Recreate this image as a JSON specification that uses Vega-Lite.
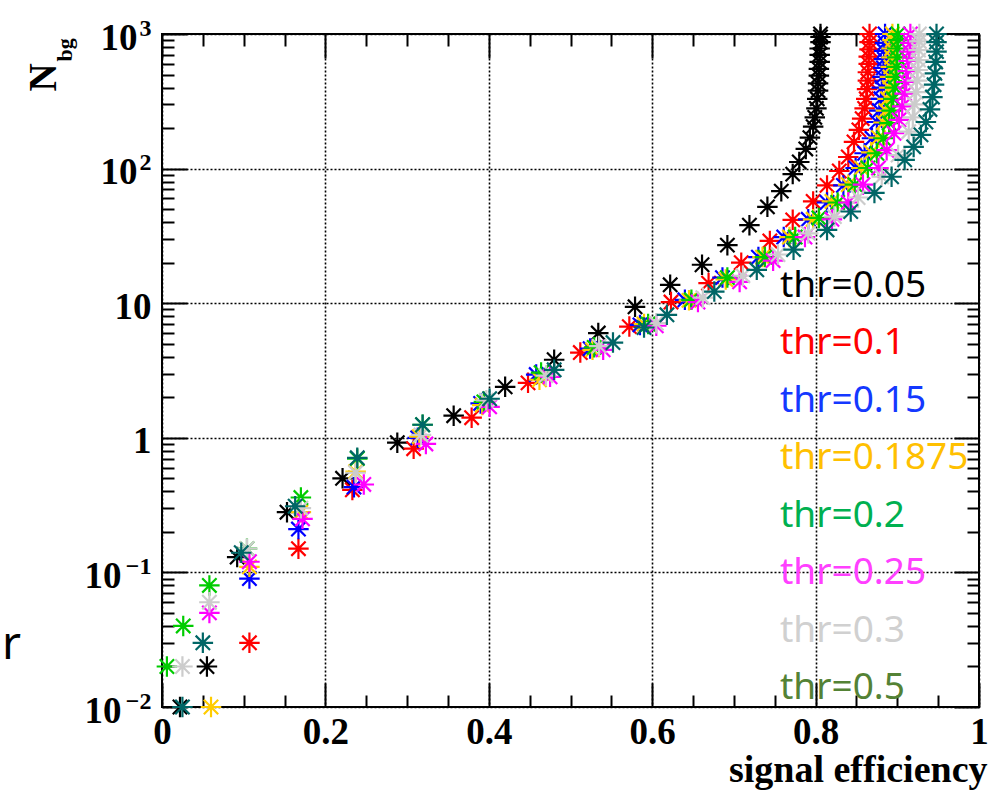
{
  "$schema": "https://vega.github.io/schema/vega-lite/v6.json",
  "width": 817,
  "height": 673,
  "autosize": "none",
  "padding": {"left": 162, "top": 34, "right": 14, "bottom": 89},
  "background": "white",
  "title": {"text": "r", "orient": "top", "anchor": "start", "frame": "group", "offset": 0, "dx": -160, "dy": 689, "baseline": "alphabetic", "font": "Noto Sans", "fontSize": 46, "fontWeight": "normal", "color": "black"},
  "config": {
    "view": {"stroke": "black", "strokeWidth": 2},
    "axis": {"labelFont": "Liberation Serif", "labelFontWeight": "bold", "labelFontSize": 37, "labelColor": "black", "titleFont": "Liberation Serif", "titleFontWeight": "bold", "titleColor": "black", "tickColor": "black", "tickWidth": 2, "labelFlush": false, "labelOverlap": false, "labelBound": false}
  },
  "data": {"values": [
    {"thr":"thr=0.05","eff":0.022,"nbg":0.01},{"thr":"thr=0.05","eff":0.055,"nbg":0.02},{"thr":"thr=0.05","eff":0.092,"nbg":0.13},{"thr":"thr=0.05","eff":0.153,"nbg":0.28},{"thr":"thr=0.05","eff":0.221,"nbg":0.5},{"thr":"thr=0.05","eff":0.288,"nbg":0.92},{"thr":"thr=0.05","eff":0.357,"nbg":1.46},{"thr":"thr=0.05","eff":0.42,"nbg":2.39},{"thr":"thr=0.05","eff":0.48,"nbg":3.8},{"thr":"thr=0.05","eff":0.534,"nbg":6.0},{"thr":"thr=0.05","eff":0.579,"nbg":9.4},{"thr":"thr=0.05","eff":0.622,"nbg":13.7},{"thr":"thr=0.05","eff":0.661,"nbg":19.3},{"thr":"thr=0.05","eff":0.692,"nbg":27},{"thr":"thr=0.05","eff":0.719,"nbg":38},{"thr":"thr=0.05","eff":0.741,"nbg":52},{"thr":"thr=0.05","eff":0.758,"nbg":68},{"thr":"thr=0.05","eff":0.772,"nbg":91},{"thr":"thr=0.05","eff":0.78,"nbg":112},{"thr":"thr=0.05","eff":0.788,"nbg":140},{"thr":"thr=0.05","eff":0.793,"nbg":170},{"thr":"thr=0.05","eff":0.797,"nbg":205},{"thr":"thr=0.05","eff":0.799,"nbg":240},{"thr":"thr=0.05","eff":0.801,"nbg":280},{"thr":"thr=0.05","eff":0.802,"nbg":330},{"thr":"thr=0.05","eff":0.803,"nbg":380},{"thr":"thr=0.05","eff":0.803,"nbg":430},{"thr":"thr=0.05","eff":0.804,"nbg":490},{"thr":"thr=0.05","eff":0.804,"nbg":550},{"thr":"thr=0.05","eff":0.805,"nbg":620},{"thr":"thr=0.05","eff":0.805,"nbg":700},{"thr":"thr=0.05","eff":0.805,"nbg":780},{"thr":"thr=0.05","eff":0.806,"nbg":870},{"thr":"thr=0.05","eff":0.806,"nbg":950},{"thr":"thr=0.05","eff":0.806,"nbg":1000},
    {"thr":"thr=0.1","eff":0.107,"nbg":0.03},{"thr":"thr=0.1","eff":0.167,"nbg":0.15},{"thr":"thr=0.1","eff":0.233,"nbg":0.41},{"thr":"thr=0.1","eff":0.308,"nbg":0.83},{"thr":"thr=0.1","eff":0.379,"nbg":1.41},{"thr":"thr=0.1","eff":0.448,"nbg":2.56},{"thr":"thr=0.1","eff":0.512,"nbg":4.3},{"thr":"thr=0.1","eff":0.572,"nbg":6.7},{"thr":"thr=0.1","eff":0.623,"nbg":10.2},{"thr":"thr=0.1","eff":0.669,"nbg":14.1},{"thr":"thr=0.1","eff":0.709,"nbg":20},{"thr":"thr=0.1","eff":0.744,"nbg":29},{"thr":"thr=0.1","eff":0.772,"nbg":41.6},{"thr":"thr=0.1","eff":0.797,"nbg":57},{"thr":"thr=0.1","eff":0.814,"nbg":75},{"thr":"thr=0.1","eff":0.829,"nbg":96},{"thr":"thr=0.1","eff":0.84,"nbg":122},{"thr":"thr=0.1","eff":0.847,"nbg":158},{"thr":"thr=0.1","eff":0.853,"nbg":194},{"thr":"thr=0.1","eff":0.857,"nbg":235},{"thr":"thr=0.1","eff":0.86,"nbg":280},{"thr":"thr=0.1","eff":0.862,"nbg":330},{"thr":"thr=0.1","eff":0.863,"nbg":390},{"thr":"thr=0.1","eff":0.864,"nbg":450},{"thr":"thr=0.1","eff":0.864,"nbg":520},{"thr":"thr=0.1","eff":0.865,"nbg":600},{"thr":"thr=0.1","eff":0.865,"nbg":680},{"thr":"thr=0.1","eff":0.866,"nbg":770},{"thr":"thr=0.1","eff":0.866,"nbg":870},{"thr":"thr=0.1","eff":0.866,"nbg":1000},
    {"thr":"thr=0.15","eff":0.107,"nbg":0.09},{"thr":"thr=0.15","eff":0.167,"nbg":0.21},{"thr":"thr=0.15","eff":0.235,"nbg":0.43},{"thr":"thr=0.15","eff":0.313,"nbg":1.0},{"thr":"thr=0.15","eff":0.39,"nbg":1.8},{"thr":"thr=0.15","eff":0.458,"nbg":2.95},{"thr":"thr=0.15","eff":0.524,"nbg":4.6},{"thr":"thr=0.15","eff":0.585,"nbg":6.9},{"thr":"thr=0.15","eff":0.64,"nbg":10.6},{"thr":"thr=0.15","eff":0.686,"nbg":15.5},{"thr":"thr=0.15","eff":0.73,"nbg":22},{"thr":"thr=0.15","eff":0.761,"nbg":31},{"thr":"thr=0.15","eff":0.791,"nbg":42},{"thr":"thr=0.15","eff":0.814,"nbg":56},{"thr":"thr=0.15","eff":0.834,"nbg":75},{"thr":"thr=0.15","eff":0.849,"nbg":101},{"thr":"thr=0.15","eff":0.86,"nbg":130},{"thr":"thr=0.15","eff":0.869,"nbg":168},{"thr":"thr=0.15","eff":0.875,"nbg":222},{"thr":"thr=0.15","eff":0.878,"nbg":270},{"thr":"thr=0.15","eff":0.88,"nbg":330},{"thr":"thr=0.15","eff":0.881,"nbg":400},{"thr":"thr=0.15","eff":0.882,"nbg":480},{"thr":"thr=0.15","eff":0.883,"nbg":560},{"thr":"thr=0.15","eff":0.884,"nbg":650},{"thr":"thr=0.15","eff":0.884,"nbg":750},{"thr":"thr=0.15","eff":0.885,"nbg":860},{"thr":"thr=0.15","eff":0.885,"nbg":1000},
    {"thr":"thr=0.1875","eff":0.06,"nbg":0.01},{"thr":"thr=0.1875","eff":0.107,"nbg":0.11},{"thr":"thr=0.1875","eff":0.17,"nbg":0.28},{"thr":"thr=0.1875","eff":0.237,"nbg":0.56},{"thr":"thr=0.1875","eff":0.315,"nbg":1.02},{"thr":"thr=0.1875","eff":0.392,"nbg":1.75},{"thr":"thr=0.1875","eff":0.462,"nbg":2.7},{"thr":"thr=0.1875","eff":0.527,"nbg":4.5},{"thr":"thr=0.1875","eff":0.59,"nbg":7.0},{"thr":"thr=0.1875","eff":0.645,"nbg":10.5},{"thr":"thr=0.1875","eff":0.69,"nbg":15},{"thr":"thr=0.1875","eff":0.735,"nbg":22},{"thr":"thr=0.1875","eff":0.768,"nbg":31},{"thr":"thr=0.1875","eff":0.797,"nbg":42},{"thr":"thr=0.1875","eff":0.82,"nbg":57},{"thr":"thr=0.1875","eff":0.84,"nbg":76},{"thr":"thr=0.1875","eff":0.856,"nbg":101},{"thr":"thr=0.1875","eff":0.868,"nbg":132},{"thr":"thr=0.1875","eff":0.877,"nbg":170},{"thr":"thr=0.1875","eff":0.883,"nbg":220},{"thr":"thr=0.1875","eff":0.886,"nbg":270},{"thr":"thr=0.1875","eff":0.888,"nbg":330},{"thr":"thr=0.1875","eff":0.89,"nbg":400},{"thr":"thr=0.1875","eff":0.891,"nbg":480},{"thr":"thr=0.1875","eff":0.892,"nbg":570},{"thr":"thr=0.1875","eff":0.893,"nbg":670},{"thr":"thr=0.1875","eff":0.893,"nbg":780},{"thr":"thr=0.1875","eff":0.894,"nbg":900},{"thr":"thr=0.1875","eff":0.894,"nbg":1000},
    {"thr":"thr=0.2","eff":0.006,"nbg":0.02},{"thr":"thr=0.2","eff":0.026,"nbg":0.04},{"thr":"thr=0.2","eff":0.058,"nbg":0.08},{"thr":"thr=0.2","eff":0.104,"nbg":0.15},{"thr":"thr=0.2","eff":0.17,"nbg":0.36},{"thr":"thr=0.2","eff":0.239,"nbg":0.7},{"thr":"thr=0.2","eff":0.319,"nbg":1.25},{"thr":"thr=0.2","eff":0.394,"nbg":1.85},{"thr":"thr=0.2","eff":0.464,"nbg":3.05},{"thr":"thr=0.2","eff":0.529,"nbg":4.7},{"thr":"thr=0.2","eff":0.595,"nbg":7.0},{"thr":"thr=0.2","eff":0.648,"nbg":10.6},{"thr":"thr=0.2","eff":0.692,"nbg":15.5},{"thr":"thr=0.2","eff":0.738,"nbg":22},{"thr":"thr=0.2","eff":0.775,"nbg":31},{"thr":"thr=0.2","eff":0.804,"nbg":43},{"thr":"thr=0.2","eff":0.827,"nbg":56},{"thr":"thr=0.2","eff":0.848,"nbg":76},{"thr":"thr=0.2","eff":0.864,"nbg":101},{"thr":"thr=0.2","eff":0.875,"nbg":130},{"thr":"thr=0.2","eff":0.883,"nbg":168},{"thr":"thr=0.2","eff":0.89,"nbg":218},{"thr":"thr=0.2","eff":0.893,"nbg":270},{"thr":"thr=0.2","eff":0.895,"nbg":330},{"thr":"thr=0.2","eff":0.897,"nbg":400},{"thr":"thr=0.2","eff":0.898,"nbg":480},{"thr":"thr=0.2","eff":0.899,"nbg":570},{"thr":"thr=0.2","eff":0.9,"nbg":670},{"thr":"thr=0.2","eff":0.9,"nbg":780},{"thr":"thr=0.2","eff":0.901,"nbg":900},{"thr":"thr=0.2","eff":0.901,"nbg":1000},
    {"thr":"thr=0.25","eff":0.058,"nbg":0.05},{"thr":"thr=0.25","eff":0.107,"nbg":0.12},{"thr":"thr=0.25","eff":0.172,"nbg":0.25},{"thr":"thr=0.25","eff":0.247,"nbg":0.45},{"thr":"thr=0.25","eff":0.323,"nbg":0.9},{"thr":"thr=0.25","eff":0.401,"nbg":1.7},{"thr":"thr=0.25","eff":0.475,"nbg":2.84},{"thr":"thr=0.25","eff":0.54,"nbg":4.5},{"thr":"thr=0.25","eff":0.605,"nbg":6.8},{"thr":"thr=0.25","eff":0.656,"nbg":10.2},{"thr":"thr=0.25","eff":0.707,"nbg":14.4},{"thr":"thr=0.25","eff":0.748,"nbg":20.7},{"thr":"thr=0.25","eff":0.787,"nbg":31},{"thr":"thr=0.25","eff":0.82,"nbg":42},{"thr":"thr=0.25","eff":0.84,"nbg":56},{"thr":"thr=0.25","eff":0.858,"nbg":76},{"thr":"thr=0.25","eff":0.877,"nbg":101},{"thr":"thr=0.25","eff":0.887,"nbg":137},{"thr":"thr=0.25","eff":0.896,"nbg":183},{"thr":"thr=0.25","eff":0.902,"nbg":230},{"thr":"thr=0.25","eff":0.906,"nbg":290},{"thr":"thr=0.25","eff":0.909,"nbg":360},{"thr":"thr=0.25","eff":0.911,"nbg":440},{"thr":"thr=0.25","eff":0.913,"nbg":530},{"thr":"thr=0.25","eff":0.914,"nbg":630},{"thr":"thr=0.25","eff":0.915,"nbg":740},{"thr":"thr=0.25","eff":0.916,"nbg":860},{"thr":"thr=0.25","eff":0.916,"nbg":1000},
    {"thr":"thr=0.3","eff":0.025,"nbg":0.02},{"thr":"thr=0.3","eff":0.058,"nbg":0.06},{"thr":"thr=0.3","eff":0.104,"nbg":0.15},{"thr":"thr=0.3","eff":0.17,"nbg":0.3},{"thr":"thr=0.3","eff":0.237,"nbg":0.55},{"thr":"thr=0.3","eff":0.317,"nbg":1.05},{"thr":"thr=0.3","eff":0.397,"nbg":1.9},{"thr":"thr=0.3","eff":0.47,"nbg":2.9},{"thr":"thr=0.3","eff":0.535,"nbg":4.8},{"thr":"thr=0.3","eff":0.605,"nbg":7.1},{"thr":"thr=0.3","eff":0.662,"nbg":11},{"thr":"thr=0.3","eff":0.711,"nbg":16},{"thr":"thr=0.3","eff":0.754,"nbg":23},{"thr":"thr=0.3","eff":0.791,"nbg":33},{"thr":"thr=0.3","eff":0.823,"nbg":44},{"thr":"thr=0.3","eff":0.852,"nbg":61},{"thr":"thr=0.3","eff":0.881,"nbg":87},{"thr":"thr=0.3","eff":0.901,"nbg":126},{"thr":"thr=0.3","eff":0.914,"nbg":188},{"thr":"thr=0.3","eff":0.919,"nbg":240},{"thr":"thr=0.3","eff":0.921,"nbg":300},{"thr":"thr=0.3","eff":0.923,"nbg":370},{"thr":"thr=0.3","eff":0.924,"nbg":450},{"thr":"thr=0.3","eff":0.925,"nbg":540},{"thr":"thr=0.3","eff":0.926,"nbg":640},{"thr":"thr=0.3","eff":0.926,"nbg":760},{"thr":"thr=0.3","eff":0.927,"nbg":880},{"thr":"thr=0.3","eff":0.927,"nbg":1000},
    {"thr":"thr=0.5","eff":0.025,"nbg":0.01},{"thr":"thr=0.5","eff":0.05,"nbg":0.03},{"thr":"thr=0.5","eff":0.097,"nbg":0.14},{"thr":"thr=0.5","eff":0.163,"nbg":0.31},{"thr":"thr=0.5","eff":0.239,"nbg":0.71},{"thr":"thr=0.5","eff":0.319,"nbg":1.25},{"thr":"thr=0.5","eff":0.401,"nbg":1.95},{"thr":"thr=0.5","eff":0.48,"nbg":3.2},{"thr":"thr=0.5","eff":0.552,"nbg":5.1},{"thr":"thr=0.5","eff":0.59,"nbg":6.6},{"thr":"thr=0.5","eff":0.618,"nbg":8.2},{"thr":"thr=0.5","eff":0.676,"nbg":12.2},{"thr":"thr=0.5","eff":0.728,"nbg":17.7},{"thr":"thr=0.5","eff":0.773,"nbg":25},{"thr":"thr=0.5","eff":0.814,"nbg":35},{"thr":"thr=0.5","eff":0.843,"nbg":48},{"thr":"thr=0.5","eff":0.872,"nbg":66},{"thr":"thr=0.5","eff":0.893,"nbg":87},{"thr":"thr=0.5","eff":0.909,"nbg":116},{"thr":"thr=0.5","eff":0.92,"nbg":145},{"thr":"thr=0.5","eff":0.929,"nbg":178},{"thr":"thr=0.5","eff":0.935,"nbg":222},{"thr":"thr=0.5","eff":0.94,"nbg":275},{"thr":"thr=0.5","eff":0.943,"nbg":340},{"thr":"thr=0.5","eff":0.945,"nbg":420},{"thr":"thr=0.5","eff":0.946,"nbg":510},{"thr":"thr=0.5","eff":0.947,"nbg":620},{"thr":"thr=0.5","eff":0.948,"nbg":740},{"thr":"thr=0.5","eff":0.948,"nbg":870},{"thr":"thr=0.5","eff":0.948,"nbg":1000}
  ]},
  "layer": [
    {
      "mark": {"type": "point", "shape": "M-1,0H1M0,-1V1M-0.7,-0.7L0.7,0.7M-0.7,0.7L0.7,-0.7", "filled": false, "size": 420, "strokeWidth": 2.2, "opacity": 1},
      "encoding": {
        "x": {"field": "eff", "type": "quantitative", "scale": {"domain": [0, 1], "nice": false, "zero": false},
          "axis": {"orient": "bottom", "values": [0, 0.2, 0.4, 0.6, 0.8, 1], "ticks": false, "domain": false, "grid": true, "gridColor": "black", "gridDash": [2, 2], "gridWidth": 1.6, "labelPadding": 7, "labelBaseline": "top",
            "labelExpr": "datum.value == 0 ? '0' : (datum.value == 1 ? '1' : format(datum.value, '.1f'))",
            "title": "signal efficiency", "titleFontSize": 38, "titleX": 825, "titleY": 74, "titleAlign": "right", "titleAnchor": "end", "titleBaseline": "alphabetic"}},
        "y": {"field": "nbg", "type": "quantitative", "scale": {"type": "log", "domain": [0.01, 1000], "nice": false},
          "axis": {"orient": "left", "values": [0.01, 0.1, 1, 10, 100, 1000], "ticks": false, "domain": false, "grid": true, "gridColor": "black", "gridDash": [2, 2], "gridWidth": 1.6,
            "labelExpr": "datum.value == 1 ? '1' : '10'", "labelAlign": "right", "labelBaseline": "middle", "labelOffset": 4,
            "labelPadding": {"expr": "datum.value < 1 ? 41 : (datum.value > 10 ? 25 : 11)"},
            "title": "N", "titleFontSize": 39, "titleAngle": 270, "titleX": -107, "titleY": 57, "titleAlign": "left", "titleBaseline": "alphabetic"}},
        "color": {"field": "thr", "type": "nominal",
          "scale": {"domain": ["thr=0.05", "thr=0.1", "thr=0.15", "thr=0.1875", "thr=0.2", "thr=0.25", "thr=0.3", "thr=0.5"],
                    "range": ["#000000", "#ff0000", "#0000ff", "#ffcc00", "#00cc00", "#ff00ff", "#cccccc", "#006666"]},
          "legend": {"orient": "none", "legendX": 581, "legendY": 233, "title": null, "padding": 0, "offset": 0,
            "symbolSize": 0, "symbolOpacity": 0, "symbolStrokeWidth": 0, "labelOffset": 0, "rowPadding": 19.5,
            "labelFont": "Noto Sans", "labelFontSize": 37, "labelLimit": 0,
            "labelColor": {"expr": "['#000000', '#ff0000', '#1438ff', '#ffc000', '#00b050', '#ff40ff', '#d0d0d0', '#548235'][indexof(['thr=0.05', 'thr=0.1', 'thr=0.15', 'thr=0.1875', 'thr=0.2', 'thr=0.25', 'thr=0.3', 'thr=0.5'], datum.value)]"}}}
      }
    },
    {
      "mark": {"type": "point", "opacity": 0},
      "encoding": {
        "x": {"field": "eff", "type": "quantitative", "scale": {"domain": [0, 1], "nice": false, "zero": false},
          "axis": {"orient": "bottom", "values": [0, 0.2, 0.4, 0.6, 0.8, 1], "labels": false, "domain": false, "grid": false, "tickSize": -24, "title": null}},
        "y": {"field": "nbg", "type": "quantitative", "scale": {"type": "log", "domain": [0.01, 1000], "nice": false},
          "axis": {"orient": "left", "values": [0.01, 0.1, 100, 1000], "ticks": false, "domain": false, "grid": false,
            "labelExpr": "datum.value == 1000 ? '3' : (datum.value == 100 ? '2' : (datum.value == 0.1 ? '−1' : '−2'))",
            "labelFontSize": 24, "labelAlign": "right", "labelBaseline": "middle", "labelPadding": 11, "labelOffset": -6,
            "title": "bg", "titleFontSize": 22, "titleAngle": 270, "titleX": -91, "titleY": 27, "titleAlign": "left", "titleBaseline": "alphabetic"}}
      }
    },
    {
      "mark": {"type": "point", "opacity": 0},
      "encoding": {
        "x": {"field": "eff", "type": "quantitative", "scale": {"domain": [0, 1], "nice": false, "zero": false},
          "axis": {"orient": "bottom", "values": [0.05, 0.1, 0.15, 0.25, 0.3, 0.35, 0.45, 0.5, 0.55, 0.65, 0.7, 0.75, 0.85, 0.9, 0.95], "labels": false, "domain": false, "grid": false, "tickSize": -12, "title": null}},
        "y": {"field": "nbg", "type": "quantitative", "scale": {"type": "log", "domain": [0.01, 1000], "nice": false},
          "axis": {"orient": "left", "values": [0.01, 0.1, 1, 10, 100, 1000], "labels": false, "domain": false, "grid": false, "tickSize": -25, "title": null}}
      }
    },
    {
      "mark": {"type": "point", "opacity": 0},
      "encoding": {
        "x": {"field": "eff", "type": "quantitative", "scale": {"domain": [0, 1], "nice": false, "zero": false},
          "axis": {"orient": "top", "values": [0, 0.2, 0.4, 0.6, 0.8, 1], "labels": false, "domain": false, "grid": false, "tickSize": -24, "title": null}},
        "y": {"field": "nbg", "type": "quantitative", "scale": {"type": "log", "domain": [0.01, 1000], "nice": false},
          "axis": {"orient": "left", "values": [0.02, 0.03, 0.04, 0.05, 0.06, 0.07, 0.08, 0.09, 0.2, 0.3, 0.4, 0.5, 0.6, 0.7, 0.8, 0.9, 2, 3, 4, 5, 6, 7, 8, 9, 20, 30, 40, 50, 60, 70, 80, 90, 200, 300, 400, 500, 600, 700, 800, 900], "labels": false, "domain": false, "grid": false, "tickSize": -12, "title": null}}
      }
    },
    {
      "mark": {"type": "point", "opacity": 0},
      "encoding": {
        "x": {"field": "eff", "type": "quantitative", "scale": {"domain": [0, 1], "nice": false, "zero": false},
          "axis": {"orient": "top", "values": [0.05, 0.1, 0.15, 0.25, 0.3, 0.35, 0.45, 0.5, 0.55, 0.65, 0.7, 0.75, 0.85, 0.9, 0.95], "labels": false, "domain": false, "grid": false, "tickSize": -12, "title": null}},
        "y": {"field": "nbg", "type": "quantitative", "scale": {"type": "log", "domain": [0.01, 1000], "nice": false},
          "axis": {"orient": "right", "values": [0.01, 0.1, 1, 10, 100, 1000], "labels": false, "domain": false, "grid": false, "tickSize": -25, "title": null}}
      }
    },
    {
      "mark": {"type": "point", "opacity": 0},
      "encoding": {
        "x": {"field": "eff", "type": "quantitative", "scale": {"domain": [0, 1], "nice": false, "zero": false}, "axis": null},
        "y": {"field": "nbg", "type": "quantitative", "scale": {"type": "log", "domain": [0.01, 1000], "nice": false},
          "axis": {"orient": "right", "values": [0.02, 0.03, 0.04, 0.05, 0.06, 0.07, 0.08, 0.09, 0.2, 0.3, 0.4, 0.5, 0.6, 0.7, 0.8, 0.9, 2, 3, 4, 5, 6, 7, 8, 9, 20, 30, 40, 50, 60, 70, 80, 90, 200, 300, 400, 500, 600, 700, 800, 900], "labels": false, "domain": false, "grid": false, "tickSize": -12, "title": null}}
      }
    }
  ],
  "resolve": {"axis": {"x": "independent", "y": "independent"}}
}
